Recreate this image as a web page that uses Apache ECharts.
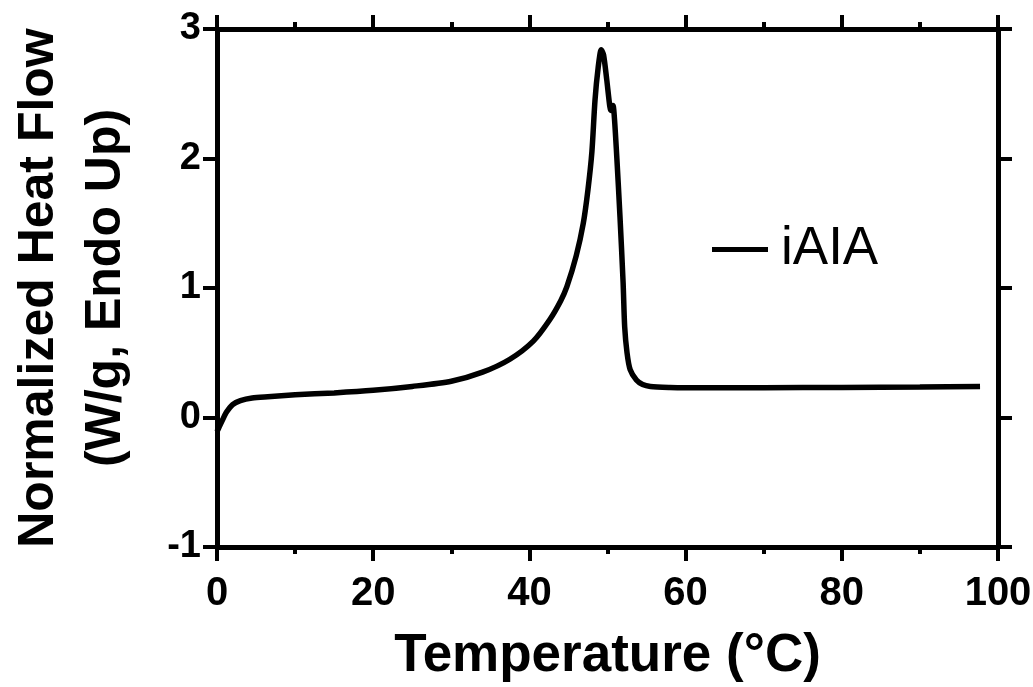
<!DOCTYPE html>
<html>
<head>
<meta charset="utf-8">
<script src="https://cdn.jsdelivr.net/npm/echarts@6/dist/echarts.min.js"></script>
<style>
html,body{margin:0;padding:0;background:#fff;}
#chart{width:1033px;height:687px;}
</style>
</head>
<body>
<div id="chart"></div>
<script>
// Data (temperature °C, normalized heat flow W/g)
const seriesName = 'iAIA';
const temperature = [0, 0.3, 0.7, 1.2, 2, 3, 4.5, 6.5, 10, 15, 20, 25, 30, 34, 37.5, 40.5, 42.6, 44, 44.8, 46, 46.9, 47.5, 48, 48.4, 48.8, 49.2, 49.5, 49.9, 50.3, 50.45, 50.7, 50.9, 51.2, 51.6, 52.0, 52.2, 52.5, 52.9, 53.7, 54.5, 55.5, 58, 60, 70, 80, 90, 97.7];
const heatFlow = [-0.11, -0.07, -0.02, 0.04, 0.10, 0.13, 0.15, 0.16, 0.175, 0.19, 0.21, 0.24, 0.28, 0.35, 0.45, 0.59, 0.755, 0.9, 1.01, 1.25, 1.5, 1.76, 2.05, 2.45, 2.7, 2.84, 2.8, 2.61, 2.4, 2.37, 2.41, 2.3, 2.0, 1.55, 1.04, 0.7, 0.5, 0.37, 0.29, 0.255, 0.24, 0.232, 0.23, 0.23, 0.232, 0.235, 0.24];
const xTicks = {min: 0, max: 100, interval: 20};
const yTicks = {min: -1, max: 3, interval: 1};

const points = temperature.map((t, i) => [t, heatFlow[i]]);
const black = '#000';
const lineStyle = {color: black, width: 5};
const tickStyle = {color: black, width: 4};
const narrow = '"Liberation Sans Narrow", "Arial Narrow", "Liberation Sans", Arial, sans-serif';
const sans = '"Liberation Sans", Arial, sans-serif';

function xAxisCfg(pos, showLabel) {
  return {
    type: 'value', position: pos, min: xTicks.min, max: xTicks.max, interval: xTicks.interval,
    axisLine: {show: true, onZero: false, lineStyle: lineStyle},
    axisTick: {show: true, inside: false, length: 14, lineStyle: tickStyle},
    minorTick: {show: true, splitNumber: 2, length: 7, lineStyle: tickStyle},
    splitLine: {show: false}, minorSplitLine: {show: false},
    axisLabel: {show: showLabel, color: black, fontFamily: narrow, fontWeight: 'bold', fontSize: 40, margin: 27},
    name: showLabel ? 'Temperature (°C)' : '', nameLocation: 'middle', nameGap: 83,
    nameTextStyle: {color: black, fontFamily: narrow, fontWeight: 'bold', fontSize: 53}
  };
}
function yAxisCfg(pos, showLabel) {
  return {
    type: 'value', position: pos, min: yTicks.min, max: yTicks.max, interval: yTicks.interval,
    axisLine: {show: true, onZero: false, lineStyle: lineStyle},
    axisTick: {show: true, inside: false, length: 14, lineStyle: tickStyle},
    splitLine: {show: false},
    axisLabel: {show: showLabel, color: black, fontFamily: sans, fontWeight: 'bold', fontSize: 38, margin: 16},
    name: showLabel ? 'Normalized Heat Flow\n(W/g, Endo Up)' : '', nameLocation: 'middle', nameRotate: 90, nameGap: 77,
    nameTextStyle: {color: black, fontFamily: sans, fontWeight: 'bold', fontSize: 50, lineHeight: 67}
  };
}

const chart = echarts.init(document.getElementById('chart'), null, {renderer: 'canvas'});
chart.setOption({
  animation: false,
  backgroundColor: '#fff',
  grid: {left: 217, right: 35, top: 29, bottom: 140, containLabel: false, outerBoundsMode: 'none'},
  legend: {
    data: [seriesName], left: 707, top: 218, itemWidth: 56, itemHeight: 5, itemGap: 10,
    icon: 'rect',
    textStyle: {color: black, fontFamily: sans, fontSize: 53, padding: [0, 0, 0, 8]}
  },
  xAxis: [xAxisCfg('bottom', true), xAxisCfg('top', false)],
  yAxis: [yAxisCfg('left', true), yAxisCfg('right', false)],
  series: [{
    name: seriesName, type: 'line', xAxisIndex: 0, yAxisIndex: 0,
    data: points, showSymbol: false, smooth: 0.25,
    lineStyle: {color: black, width: 5.5}, itemStyle: {color: black}
  }]
});
</script>
</body>
</html>
